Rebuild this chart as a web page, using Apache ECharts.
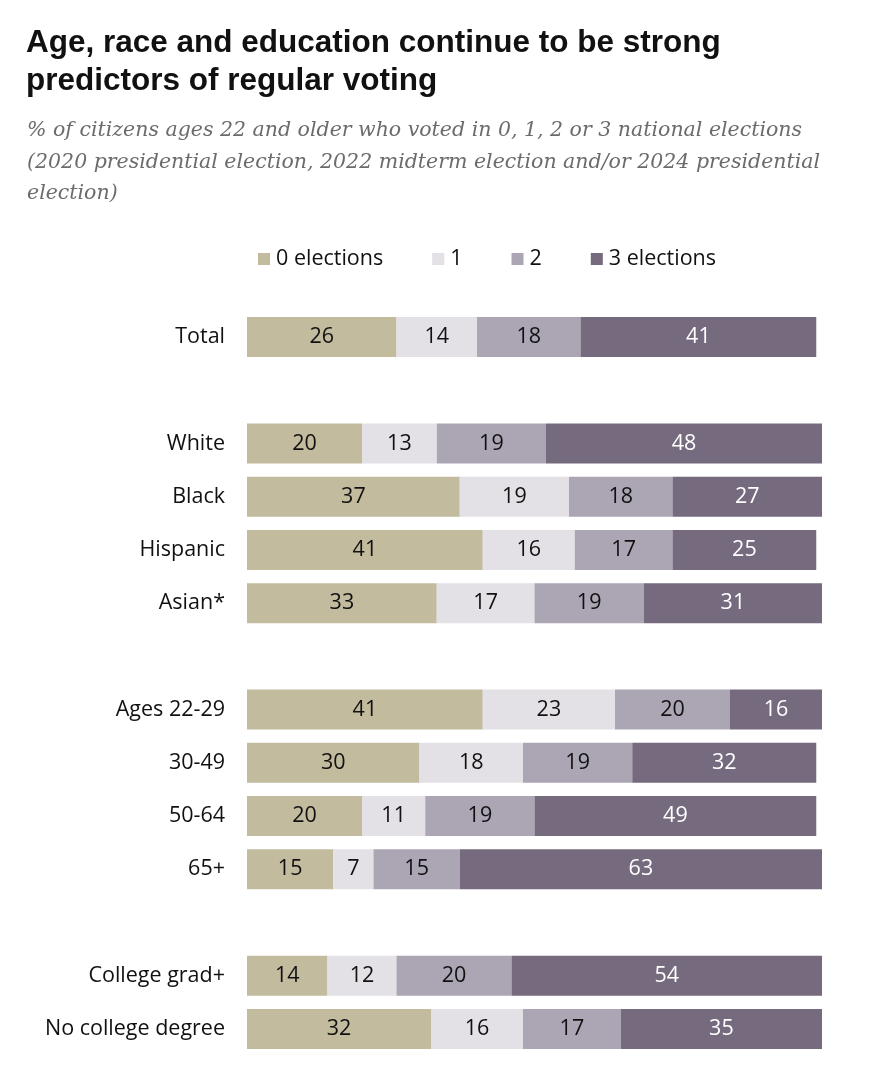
<!DOCTYPE html>
<html>
<head>
<meta charset="utf-8">
<script src="https://cdn.jsdelivr.net/npm/echarts@6/dist/echarts.min.js"></script>
<style>
  html, body { margin: 0; padding: 0; background: #fff; }
  #main { width: 882px; height: 1080px; }
</style>
</head>
<body>
<div id="main"></div>
<script>
// rows, blank strings are the spacer rows between groups
var categories = ['Total', ' ', 'White', 'Black', 'Hispanic', 'Asian*', '  ',
    'Ages 22-29', '30-49', '50-64', '65+', '   ', 'College grad+', 'No college degree'];
var seriesNames = ['0 elections', '1', '2', '3 elections'];
var zeroElections = [26, null, 20, 37, 41, 33, null, 41, 30, 20, 15, null, 14, 32];
var oneElection = [14, null, 13, 19, 16, 17, null, 23, 18, 11, 7, null, 12, 16];
var twoElections = [18, null, 19, 18, 17, 19, null, 20, 19, 19, 15, null, 20, 17];
var threeElections = [41, null, 48, 27, 25, 31, null, 16, 32, 49, 63, null, 54, 35];

var colors = ['#c2bb9e', '#e3e0e6', '#aca5b4', '#756a7e'];
var labelColors = ['#111', '#111', '#111', '#ffffff'];
var values = [zeroElections, oneElection, twoElections, threeElections];
var font = 'Open Sans';

var chart = echarts.init(document.getElementById('main'));

var series = [];
for (var i = 0; i < seriesNames.length; i++) {
    series.push({
        name: seriesNames[i],
        type: 'bar',
        stack: 'total',
        barWidth: 40,
        data: values[i],
        itemStyle: { color: colors[i] },
        label: {
            show: true,
            position: 'inside',
            color: labelColors[i],
            fontSize: 21.5,
            fontFamily: font
        },
        emphasis: { disabled: true }
    });
}

var option = {
    backgroundColor: '#fff',
    animation: false,
    color: colors,
    title: [
        {
            text: 'Age, race and education continue to be strong\npredictors of regular voting',
            left: 21,
            top: 19,
            textStyle: {
                fontFamily: 'Liberation Sans',
                fontWeight: 'bold',
                fontSize: 31.5,
                lineHeight: 38,
                color: '#111'
            }
        },
        {
            text: '% of citizens ages 22 and older who voted in 0, 1, 2 or 3 national elections\n(2020 presidential election, 2022 midterm election and/or 2024 presidential\nelection)',
            left: 22,
            top: 110,
            textStyle: {
                fontFamily: 'DejaVu Serif',
                fontStyle: 'italic',
                fontWeight: 'normal',
                fontSize: 20.5,
                lineHeight: 31.5,
                color: '#6b6b6b'
            }
        }
    ],
    legend: {
        data: seriesNames,
        left: 253,
        top: 243,
        icon: 'rect',
        itemWidth: 12,
        itemHeight: 12,
        itemGap: 49,
        textStyle: {
            fontFamily: font,
            fontSize: 21.5,
            color: '#111',
            padding: [0, 0, 0, 1]
        },
        selectedMode: false
    },
    grid: {
        left: 247,
        width: 575,
        top: 310.4,
        height: 745.2
    },
    xAxis: {
        type: 'value',
        min: 0,
        max: 100,
        show: false
    },
    yAxis: {
        type: 'category',
        inverse: true,
        data: categories,
        axisLine: { show: false },
        axisTick: { show: false },
        splitLine: { show: false },
        axisLabel: {
            margin: 22,
            fontFamily: font,
            fontSize: 21.5,
            color: '#111'
        }
    },
    series: series
};

chart.setOption(option);
</script>
</body>
</html>
